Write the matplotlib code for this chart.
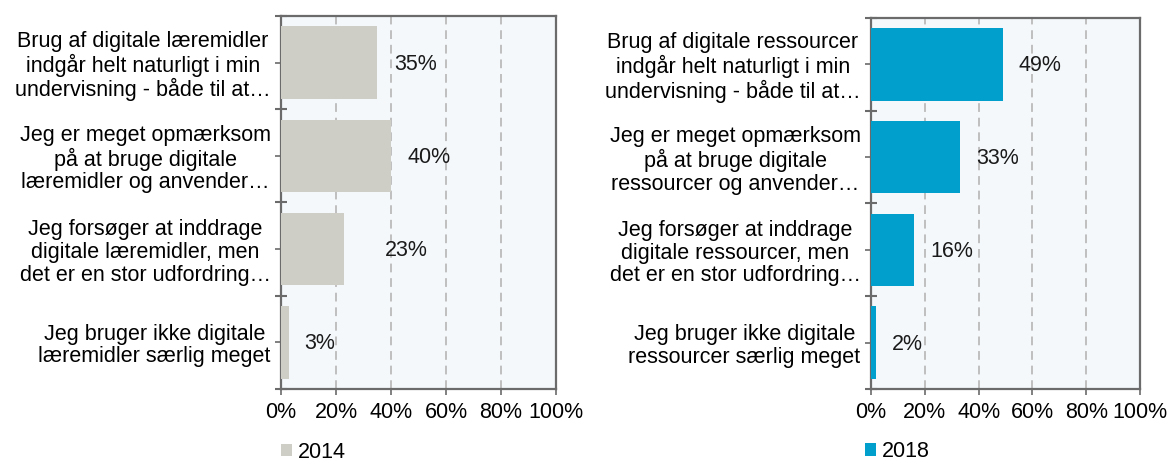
import matplotlib
matplotlib.use("Agg")
import matplotlib.pyplot as plt
from matplotlib.patches import Patch

plt.rcParams['font.family'] = ['Liberation Sans', 'DejaVu Sans']

categories_2014 = [
    "Brug af digitale læremidler\nindgår helt naturligt i min\nundervisning - både til at…",
    "Jeg er meget opmærksom\npå at bruge digitale\nlæremidler og anvender…",
    "Jeg forsøger at inddrage\ndigitale læremidler, men\ndet er en stor udfordring…",
    "Jeg bruger ikke digitale\nlæremidler særlig meget",
]
categories_2018 = [
    "Brug af digitale ressourcer\nindgår helt naturligt i min\nundervisning - både til at…",
    "Jeg er meget opmærksom\npå at bruge digitale\nressourcer og anvender…",
    "Jeg forsøger at inddrage\ndigitale ressourcer, men\ndet er en stor udfordring…",
    "Jeg bruger ikke digitale\nressourcer særlig meget",
]
values_2014 = [35, 40, 23, 3]
values_2018 = [49, 33, 16, 2]
series_labels = ["2014", "2018"]
xticks = [0, 20, 40, 60, 80, 100]
xtick_labels = ["0%", "20%", "40%", "60%", "80%", "100%"]

color_2014 = "#CFCEC6"
color_2018 = "#009FCC"
spine_color = "#6B6B6B"
bg_color = "#F4F8FB"
fs = 15.5

fig = plt.figure(figsize=(11.7, 4.61), dpi=100)
ax1 = fig.add_axes([281 / 1170, 1 - 389 / 461, 275 / 1170, 373 / 461])
ax2 = fig.add_axes([871 / 1170, 1 - 389 / 461, 269 / 1170, 371 / 461])

# label offsets in points (style only)
offsets_2014 = [12, 12, 29.5, 11]
offsets_2018 = [11, 12, 11.5, 11]

def draw(ax, cats, vals, color, label, offs, leg_x):
    n = len(cats)
    pos = list(range(n))
    ax.set_facecolor(bg_color)
    ax.barh(pos, vals, height=0.78, color=color, zorder=3)
    ax.set_xlim(0, 100)
    ax.set_ylim(n - 0.5, -0.5)
    ax.set_xticks(xticks)
    ax.set_xticklabels(xtick_labels, fontsize=fs)
    ax.set_yticks(pos)
    ax.set_yticklabels(cats, fontsize=fs, multialignment='center', linespacing=1.1)
    ax.set_yticks([p - 0.5 for p in pos] + [n - 0.5], minor=True)
    ax.tick_params(axis='y', which='major', length=4, width=1.2, color=spine_color, pad=3.5)
    ax.tick_params(axis='y', which='minor', length=8, width=1.5, color=spine_color, direction='inout')
    ax.tick_params(axis='x', which='major', length=4, width=1.2, color=spine_color, pad=5)
    for s in ax.spines.values():
        s.set_color(spine_color)
        s.set_linewidth(1.6)
    for x in xticks[1:-1]:
        ax.axvline(x, color="#BFBFBF", linestyle=(0, (4.5, 3)), linewidth=1.4, zorder=1)
    for p, v, o in zip(pos, vals, offs):
        ax.annotate(f"{v}%", (v, p), xytext=(o, -1), textcoords='offset points',
                    ha='left', va='center', fontsize=fs, color="#1a1a1a", zorder=4)
    ax.legend(handles=[Patch(facecolor=color, edgecolor='none', label=label)],
              loc='center left', bbox_to_anchor=(leg_x, -0.169), frameon=False,
              fontsize=fs, handlelength=0.52, handleheight=0.52, handletextpad=0.25,
              borderaxespad=0, borderpad=0)

draw(ax1, categories_2014, values_2014, color_2014, series_labels[0], offsets_2014, 0.0)
draw(ax2, categories_2018, values_2018, color_2018, series_labels[1], offsets_2018, -0.022)

fig.savefig("out.png", dpi=100, facecolor="white")
